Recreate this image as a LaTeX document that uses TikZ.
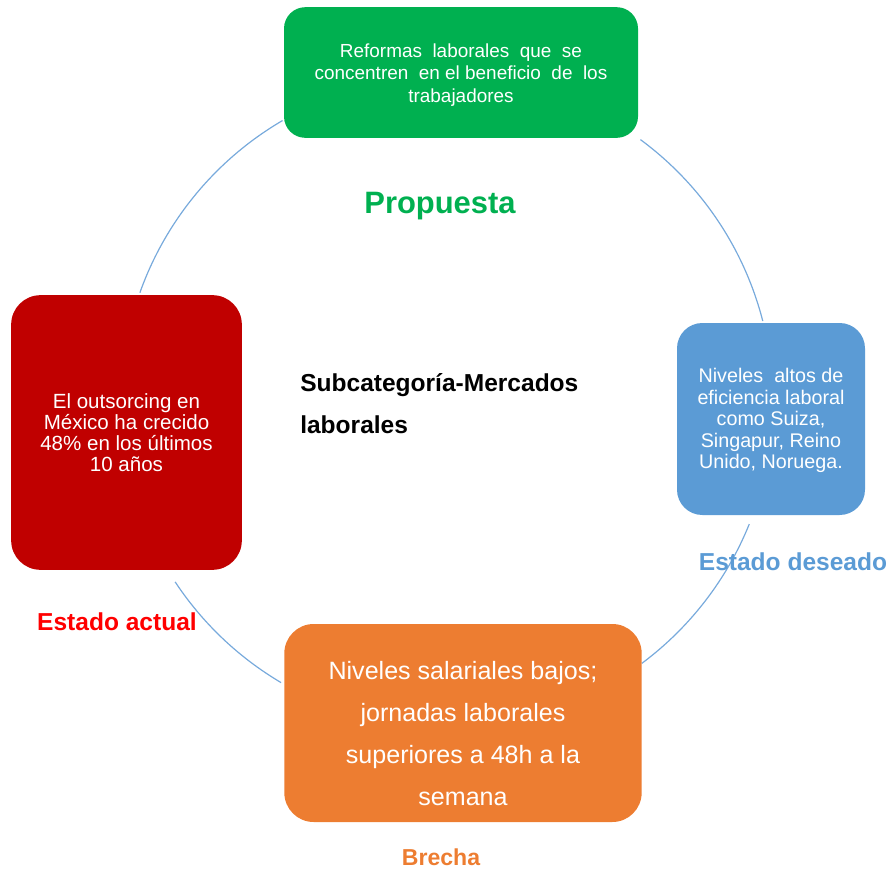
\documentclass[tikz,border=0pt]{standalone}
\usepackage{fontspec}
\setmainfont{Liberation Sans}
\usepackage{tikz}
\usetikzlibrary{positioning, calc}

\definecolor{verde}{RGB}{0,176,80}
\definecolor{azul}{RGB}{91,155,213}
\definecolor{rojo}{RGB}{192,0,0}
\definecolor{naranja}{RGB}{237,125,49}
\definecolor{rojotexto}{RGB}{255,0,0}
\definecolor{arcocol}{RGB}{120,170,220}

\begin{document}
\begin{tikzpicture}[x=0.75pt, y=0.75pt,
    caja/.style={inner sep=0pt, align=center, text=white},
    etiqueta/.style={inner sep=0pt, font=\bfseries\fontsize{18.4}{22}\selectfont},
    arco/.style={draw=arcocol, line width=0.9pt}]
    \useasboundingbox (0,0) rectangle (894,-871);
    \coordinate (centro) at (447,-402);
    \foreach \a/\b in {120.3/160.4, 14.4/53.6, -53.3/-22, 213.5/239.4} {
        \draw[arco] ([shift={(\a:244.5pt)}]centro) arc[start angle=\a, end angle=\b, radius=244.5pt];
    }
    \node[caja, fill=verde, rounded corners=16pt, minimum width=265.5pt, minimum height=98pt,
        font=\fontsize{14.2}{16.9}\selectfont] (propuestabox) at (461,-72.5)
        {\rule{0pt}{13.5pt}Reformas\ \ laborales\ \ que\ \ se\\concentren\ \ en el beneficio\ \ de\ \ los\\trabajadores};
    \node[caja, fill=azul, rounded corners=19pt, minimum width=141pt, minimum height=144pt,
        font=\fontsize{14.8}{16.1}\selectfont] (deseadobox) at (771,-419)
        {\rule{0pt}{13pt}Niveles\ \ altos de\\eficiencia laboral\\como Suiza,\\Singapur,\ Reino\\Unido, Noruega.};
    \node[caja, fill=rojo, rounded corners=22pt, minimum width=173pt, minimum height=206pt,
        font=\fontsize{15.4}{15.8}\selectfont] (actualbox) at (126.5,-432.5)
        {El outsorcing en\\México ha crecido\\48\% en los últimos\\10 años};
    \node[caja, fill=naranja, rounded corners=22pt, minimum width=268pt, minimum height=148.5pt,
        font=\fontsize{18.8}{31.5}\selectfont] (brechabox) at (463,-723)
        {\rule{0pt}{30pt}Niveles salariales bajos;\\jornadas laborales\\superiores a 48h\ a la\\semana};
    \node[etiqueta, text=verde, font=\bfseries\fontsize{23.2}{26}\selectfont] (propuesta) at (440,-206) {Propuesta};
    \node[etiqueta, text=azul] (deseado) at (793,-562) {Estado deseado};
    \node[etiqueta, text=rojotexto] (actual) at (117,-622) {Estado actual};
    \node[etiqueta, text=naranja, font=\bfseries\fontsize{17.3}{20}\selectfont] (brecha) at (441,-857) {Brecha};
    \node[etiqueta, anchor=west, align=left, font=\bfseries\fontsize{18.4}{32}\selectfont] (subcat) at (300,-403.5)
        {Subcategoría-Mercados\\laborales};
\end{tikzpicture}
\end{document}
